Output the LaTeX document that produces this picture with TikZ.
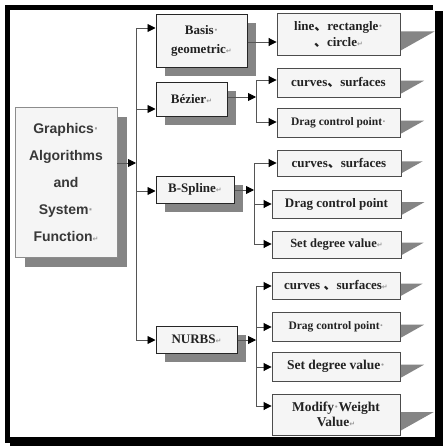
\documentclass[tikz,border=0pt]{standalone}
\usepackage{fontspec}
\setmainfont{Liberation Serif}
\newfontfamily\sansb{Liberation Sans}
\newfontfamily\cjk{Noto Sans CJK SC}
\newfontfamily\dv{DejaVu Sans}
\usetikzlibrary{arrows.meta,shadows,calc}
\definecolor{boxfill}{HTML}{F5F5F5}
\definecolor{shadowc}{HTML}{858585}
\definecolor{linec}{HTML}{555555}
\definecolor{markc}{HTML}{9A9A9A}
\definecolor{txt}{HTML}{222222}
\newcommand{\mksp}{{\color{markc}\textperiodcentered}}
\newcommand{\mkret}{{\color{markc}\dv\fontsize{7pt}{7pt}\selectfont ↵}}
\newcommand{\dun}{{\cjk 、}}
\tikzset{
  mainbox/.style={draw=black!45, line width=0.9pt, fill=boxfill, inner sep=0pt, align=center,
    text=black!78, font=\sansb\bfseries\fontsize{14pt}{27pt}\selectfont,
    drop shadow={shadow xshift=10pt, shadow yshift=-10pt, fill=shadowc, opacity=1}},
  lvbox/.style={draw=black!85, line width=1pt, fill=boxfill, inner sep=0pt, align=center,
    text=txt, font=\bfseries\fontsize{13pt}{19pt}\selectfont,
    drop shadow={shadow xshift=9pt, shadow yshift=-9pt, fill=shadowc, opacity=1}},
  leafbox/.style={draw=black!70, line width=0.9pt, fill=boxfill, inner sep=0pt, align=center,
    text=txt, font=\bfseries\fontsize{13pt}{16pt}\selectfont},
  conn/.style={draw=linec, line width=0.9pt},
  arr/.style={draw=linec, line width=0.9pt, -{Triangle[length=8pt,width=8pt,color=black,fill=black]}},
}
\begin{document}
\begin{tikzpicture}[x=1pt,y=-1pt]
\useasboundingbox (0,0) rectangle (444,447);
% frame
\fill[white] (0,0) rectangle (444,447);
\fill[black] (5,5) rectangle (433,10);
\fill[black] (5,5) rectangle (10,443);
\fill[black] (10,437) rectangle (441,446);
\fill[black] (435,11) rectangle (443,446);

% main box
\node[mainbox, minimum width=102pt, minimum height=150pt] (main) at (66,182)
  {Graphics\mksp\\Algorithms\\and\\System\mksp\\Function\mkret};

% level 1
\node[lvbox, minimum width=91pt, minimum height=53pt] (basis) at (201.5,40.5) {Basis\mksp\\geometric\mkret};
\node[lvbox, minimum width=71pt, minimum height=34pt] (bez) at (191.5,99) {Bézier\mkret};
\node[lvbox, minimum width=78pt, minimum height=27pt] (bsp) at (195,189.5) {B-Spline\mkret};
\node[lvbox, minimum width=81pt, minimum height=27pt] (nurbs) at (196.5,339.5) {NURBS\mkret};

% leaves
\node[leafbox, minimum width=123pt, minimum height=42pt] (line) at (338.5,34) {line\dun rectangle\mksp\\\dun circle\mkret};
\node[leafbox, minimum width=123pt, minimum height=29pt] (c1) at (338.5,82.5) {curves\dun surfaces};
\node[leafbox, minimum width=123pt, minimum height=29pt, font=\bfseries\fontsize{11.5pt}{14pt}\selectfont] (d1) at (338.5,122.5) {Drag control point\mksp};
\node[leafbox, minimum width=124pt, minimum height=26pt] (c2) at (339,163) {curves\dun surfaces};
\node[leafbox, minimum width=129pt, minimum height=28pt] (d2) at (336.5,204) {Drag control point};
\node[leafbox, minimum width=129pt, minimum height=27pt, font=\bfseries\fontsize{12.5pt}{14pt}\selectfont] (s2) at (336.5,244.5) {Set degree value\mkret};
\node[leafbox, minimum width=128pt, minimum height=27pt] (c3) at (336,285.5) {curves \dun surfaces\mkret};
\node[leafbox, minimum width=128pt, minimum height=29pt, font=\bfseries\fontsize{11.5pt}{14pt}\selectfont] (d3) at (336,326.5) {Drag control point\mksp};
\node[leafbox, minimum width=128pt, minimum height=29pt, font=\bfseries\fontsize{13.5pt}{16pt}\selectfont] (s3) at (336,366.5) {Set degree value\mksp};
\node[leafbox, minimum width=128pt, minimum height=41pt, font=\bfseries\fontsize{13.5pt}{15pt}\selectfont] (m3) at (336,414.5) {Modify\mksp Weight\\Value\mkret};

% wedge shadows of the leaves
\foreach \n/\h in {line/42, c1/29, d1/29, c2/26, d2/28, s2/27, c3/27, d3/29, s3/29, m3/41}{
  \fill[shadowc] ($(\n.north east)+(0.5,0.45*\h)$) -- ++(0.8*\h,0) -- ($(\n.north east)+(0.5,0.9*\h)$) -- cycle;
}

% trunk
\coordinate (tA) at (136,28);
\coordinate (tB) at (136,109);
\coordinate (tM) at (136,163);
\coordinate (tC) at (136,191);
\coordinate (tD) at (136,340);
\draw[conn] (tA) -- (tD);
\draw[arr] (main.east |- tM) -- (tM);
\draw[arr] (tA) -- (basis.west |- tA);
\draw[arr] (tB) -- (bez.west |- tB);
\draw[arr] (tC) -- (bsp.west |- tC);
\draw[arr] (tD) -- (nurbs.west |- tD);

% basis -> line
\coordinate (bl) at (250,42);
\draw[arr] (basis.east |- bl) -- (line.west |- bl);

% bezier branch
\coordinate (sB) at (256,97);
\coordinate (sB1) at (256,80);
\coordinate (sB2) at (256,122);
\draw[arr] (bez.east |- sB) -- (sB);
\draw[conn] (sB1) -- (sB2);
\draw[arr] (sB1) -- (c1.west |- sB1);
\draw[arr] (sB2) -- (d1.west |- sB2);

% b-spline branch
\coordinate (sC) at (254,190);
\coordinate (sC1) at (254,163);
\coordinate (sC2) at (254,204);
\coordinate (sC3) at (254,244);
\draw[arr] (bsp.east |- sC) -- (sC);
\draw[conn] (sC1) -- (sC3);
\draw[arr] (sC1) -- (c2.west |- sC1);
\draw[arr] (sC2) -- (d2.west |- sC2);
\draw[arr] (sC3) -- (s2.west |- sC3);

% nurbs branch
\coordinate (sD) at (256,340);
\coordinate (sD1) at (256,286);
\coordinate (sD2) at (256,327);
\coordinate (sD3) at (256,367);
\coordinate (sD4) at (256,406);
\draw[arr] (nurbs.east |- sD) -- (sD);
\draw[conn] (sD1) -- (sD4);
\draw[arr] (sD1) -- (c3.west |- sD1);
\draw[arr] (sD2) -- (d3.west |- sD2);
\draw[arr] (sD3) -- (s3.west |- sD3);
\draw[arr] (sD4) -- (m3.west |- sD4);
\end{tikzpicture}
\end{document}
